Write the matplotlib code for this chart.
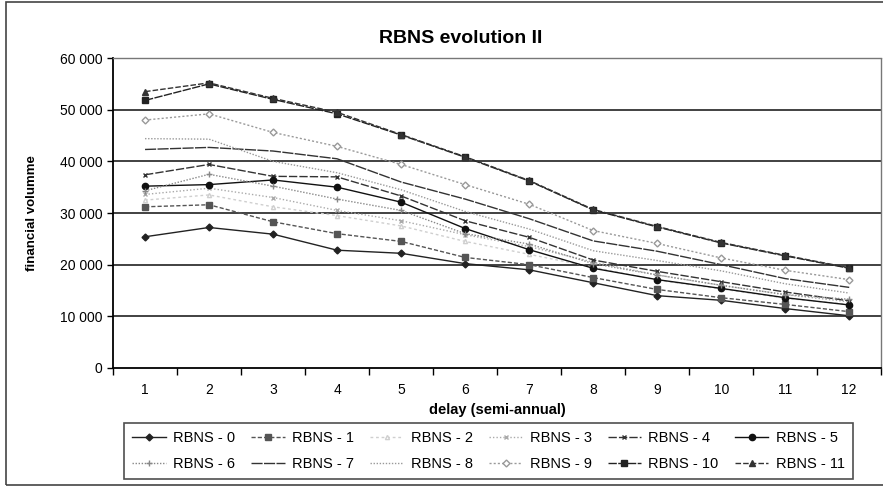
import matplotlib.pyplot as plt
from matplotlib.patches import Rectangle

plt.rcParams['font.family'] = ['Liberation Sans', 'DejaVu Sans']

# delay buckets (semi-annual) and RBNS volumes per development line
delay = list(range(1, 13))
rbns_0 = [25400, 27200, 25900, 22800, 22200, 20200, 19000, 16500, 14000, 13100, 11500, 10100]
rbns_1 = [31200, 31600, 28300, 26000, 24500, 21400, 20000, 17500, 15200, 13600, 12300, 10900]
rbns_2 = [32500, 33500, 31200, 29500, 27500, 24500, 22000, 19500, 17000, 15300, 13500, 12300]
rbns_3 = [33600, 34800, 33000, 30500, 28500, 25800, 23500, 20500, 18000, 16000, 14200, 12800]
rbns_4 = [37400, 39400, 37100, 37000, 33300, 28500, 25300, 20900, 18700, 16700, 14700, 13000]
rbns_5 = [35200, 35500, 36400, 35000, 32100, 27000, 22900, 19300, 17100, 15400, 13600, 12200]
rbns_6 = [34300, 37500, 35200, 32700, 30500, 26000, 24000, 20200, 18000, 16000, 14200, 13300]
rbns_7 = [42300, 42700, 42000, 40500, 36000, 32700, 28900, 24600, 22600, 20000, 17300, 15600]
rbns_8 = [44400, 44300, 40000, 37800, 34500, 30300, 26900, 22700, 20800, 18800, 16300, 14500]
rbns_9 = [48000, 49200, 45600, 42900, 39400, 35500, 31700, 26600, 24100, 21300, 18900, 17100]
rbns_10 = [51800, 55000, 52000, 49200, 45100, 40800, 36200, 30600, 27300, 24200, 21700, 19300]
rbns_11 = [53500, 55200, 52200, 49500, 45200, 40900, 36300, 30700, 27400, 24300, 21800, 19400]

series = [rbns_0, rbns_1, rbns_2, rbns_3, rbns_4, rbns_5,
          rbns_6, rbns_7, rbns_8, rbns_9, rbns_10, rbns_11]
labels = ['RBNS - %d' % i for i in range(12)]

# (color, linestyle, marker, markersize, marker face)
styles = [
    ('#222222', '-', 'D', 3.5, 'full'),
    ('#555555', (0, (3, 1.5)), 's', 4.5, 'full'),
    ('#cfcfcf', (0, (2, 2)), '^', 3, 'none'),
    ('#aaaaaa', (0, (1, 1.5)), 'x', 3.5, 'full'),
    ('#333333', (0, (6, 1.5)), 'x', 3.5, 'full'),
    ('#111111', '-', 'o', 4.5, 'full'),
    ('#888888', (0, (1, 1.2)), '+', 4.5, 'full'),
    ('#333333', (0, (8, 1)), '', 0, 'full'),
    ('#999999', (0, (1, 1.2)), '', 0, 'full'),
    ('#999999', (0, (1.5, 1.5)), 'D', 3.5, 'none'),
    ('#222222', (0, (6, 1)), 's', 4.5, 'full'),
    ('#333333', (0, (4, 1.5)), '^', 4.5, 'full'),
]

fig = plt.figure(figsize=(8.83, 4.88), dpi=100)
ax = fig.add_axes([0.128, 0.246, 0.870, 0.635])

handles = []
for vals, lab, (c, ls, mk, ms, face) in zip(series, labels, styles):
    mfc = 'white' if face == 'none' else c
    h, = ax.plot(delay, vals, color=c, linestyle=ls, linewidth=1.0,
                 marker=mk if mk else None, markersize=ms,
                 markerfacecolor=mfc, markeredgecolor=c, label=lab)
    handles.append(h)

ax.set_xlim(0.5, 12.5)
ax.set_ylim(0, 60000)
ax.set_xticks(delay)
ax.set_xticks([i + 0.5 for i in range(0, 13)], minor=True)
ax.tick_params(axis='x', which='major', length=0, labelsize=10, pad=11)
ax.tick_params(axis='x', which='minor', length=5, direction='out', width=1)
ax.set_yticks(range(0, 60001, 10000))
ax.set_yticklabels(['0', '10 000', '20 000', '30 000', '40 000', '50 000', '60 000'])
ax.tick_params(axis='y', length=4, direction='out', labelsize=10, width=1)

for v in range(10000, 60000, 10000):
    ax.axhline(v, color='#333333', linewidth=1.3, zorder=0)

ax.spines['left'].set_linewidth(1.3)
ax.spines['bottom'].set_linewidth(1.3)
for side in ('top', 'right'):
    ax.spines[side].set_linestyle((0, (1, 1)))
    ax.spines[side].set_color('#777777')
    ax.spines[side].set_linewidth(1)

ax.set_xlabel('delay (semi-annual)', fontsize=10.5, fontweight='bold', labelpad=4)
ax.set_ylabel('financial volumme', fontsize=9.5, fontweight='bold', labelpad=16)
fig.text(0.522, 0.922, 'RBNS evolution II', ha='center', va='center',
         fontsize=14, fontweight='bold')

# legend fills column-wise, so interleave to get two rows of six
order = [0, 6, 1, 7, 2, 8, 3, 9, 4, 10, 5, 11]
leg = fig.legend([handles[i] for i in order], [labels[i] for i in order],
                 ncol=6, loc='center', bbox_to_anchor=(0.553, 0.076),
                 fontsize=10.5, frameon=True, fancybox=False, handlelength=2.3,
                 handletextpad=0.5, columnspacing=1.1, borderpad=0.55,
                 labelspacing=0.8)
leg.get_frame().set_edgecolor('#222222')
leg.get_frame().set_linewidth(1.2)

# outer chart frame
fig.patches.append(Rectangle((0.007, 0.006), 1.2, 0.99, transform=fig.transFigure,
                             fill=False, edgecolor='#444444', linewidth=1.2))

fig.savefig('out.png', dpi=100)
